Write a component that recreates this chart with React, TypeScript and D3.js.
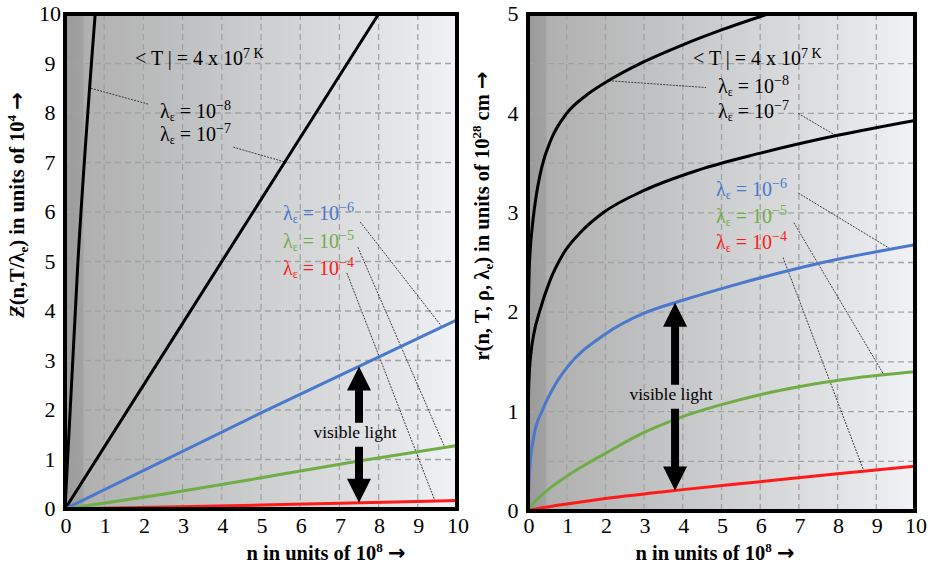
import React from 'react';
import * as d3 from 'd3';

type Pt = [number, number];

// ---- tick values ----
const nTicks = [0, 1, 2, 3, 4, 5, 6, 7, 8, 9, 10];
const zTicks = [0, 1, 2, 3, 4, 5, 6, 7, 8, 9, 10];
const zGrid = [1, 2, 3, 4, 5, 6, 7, 8, 9];
const nGrid = [1, 2, 3, 4, 5, 6, 7, 8, 9];
const rTicks = [0, 1, 2, 3, 4, 5];
const rGrid = [0.5, 1, 1.5, 2, 2.5, 3, 3.5, 4, 4.5];

// ---- Z(n, T/λe), units of 1e4, n in units of 1e8 ----
const zLam8: Pt[] = [[0, 0], [0.33, 5], [0.77, 10]];
const zLam7: Pt[] = [[0, 0], [5.6, 7], [8.0, 10]];
const zLam6: Pt[] = [[0, 0], [5, 1.94], [10, 3.82]];
const zLam5: Pt[] = [[0, 0], [2.5, 0.3], [5, 0.63], [7.5, 0.97], [10, 1.28]];
const zLam4: Pt[] = [[0, 0], [5, 0.08], [10, 0.17]];

// ---- r(n, T, ρ, λe), units of 1e28 cm ----
const rLam8: Pt[] = [[0, 0], [0.002, 1.4], [0.01, 2.0], [0.03, 2.4], [0.06, 2.64], [0.1, 2.82], [0.2, 3.14], [0.35, 3.45], [0.6, 3.74], [1, 4.0], [1.5, 4.18], [2, 4.31], [3, 4.52], [4, 4.69], [5, 4.84], [6.2, 5.0], [7, 5.1]];
const rLam7: Pt[] = [[0, 0], [0.003, 0.8], [0.01, 1.1], [0.03, 1.35], [0.08, 1.6], [0.15, 1.78], [0.31, 2.02], [0.57, 2.32], [0.9, 2.58], [1.4, 2.82], [1.94, 3.0], [2.97, 3.22], [4.4, 3.43], [6, 3.6], [8, 3.78], [10, 3.93]];
const rLam6: Pt[] = [[0, 0], [0.02, 0.25], [0.06, 0.5], [0.15, 0.75], [0.38, 1.02], [0.7, 1.27], [1, 1.44], [2, 1.78], [3, 1.99], [4, 2.12], [5.3, 2.27], [7.5, 2.49], [10, 2.68]];
const rLam5: Pt[] = [[0, 0], [0.1, 0.06], [0.3, 0.14], [0.6, 0.24], [1, 0.35], [1.5, 0.47], [2, 0.58], [3, 0.79], [4, 0.95], [5, 1.07], [6, 1.17], [7, 1.25], [8.5, 1.34], [10, 1.4]];
const rLam4: Pt[] = [[0, 0], [0.2, 0.02], [0.5, 0.04], [1, 0.07], [2, 0.125], [4, 0.215], [6, 0.295], [8, 0.375], [10, 0.45]];

const BLUE = '#4a78cc';
const GREEN = '#70ad47';
const RED = '#ff1a1a';
const SERIF = '"Liberation Serif", "Times New Roman", serif';
const ARROW_FONT = '"DejaVu Sans", sans-serif';

const zSeries = [
  { pts: zLam8, color: '#000' },
  { pts: zLam7, color: '#000' },
  { pts: zLam6, color: BLUE },
  { pts: zLam5, color: GREEN },
  { pts: zLam4, color: RED },
];
const rSeries = [
  { pts: rLam8, color: '#000' },
  { pts: rLam7, color: '#000' },
  { pts: rLam6, color: BLUE },
  { pts: rLam5, color: GREEN },
  { pts: rLam4, color: RED },
];

// linear interpolation of a series at n
function valueAt(pts: Pt[], n: number): number {
  for (let i = 1; i < pts.length; i++) {
    if (n <= pts[i][0]) {
      const [x0, y0] = pts[i - 1];
      const [x1, y1] = pts[i];
      return y0 + ((n - x0) / (x1 - x0)) * (y1 - y0);
    }
  }
  return pts[pts.length - 1][1];
}

const xL = d3.scaleLinear().domain([0, 10]).range([65, 457]);
const yL = d3.scaleLinear().domain([0, 10]).range([509, 14]);
const xR = d3.scaleLinear().domain([0, 10]).range([528, 915]);
const yR = d3.scaleLinear().domain([0, 5]).range([511, 14]);

function LamLabel({ x, y, exp, color }: { x: number; y: number; exp: number; color: string }) {
  return (
    <text x={x} y={y} fontFamily={SERIF} fontSize={20} fill={color}>
      <tspan>λ</tspan>
      <tspan fontSize={12} dy={3}>ε</tspan>
      <tspan dy={-3}> = 10</tspan>
      <tspan fontSize={14} dy={-8}>{'−' + exp}</tspan>
    </text>
  );
}

function TempLabel({ x, y }: { x: number; y: number }) {
  return (
    <text x={x} y={y} fontFamily={SERIF} fontSize={20} fill="#000">
      <tspan>{'< T | = 4 x 10'}</tspan>
      <tspan fontSize={14} dy={-7}>{'7 K'}</tspan>
    </text>
  );
}

function DoubleArrow({ x, yTop, yBot, label }: { x: number; yTop: number; yBot: number; label: string }) {
  const head = 24, hw = 12, sw = 4;
  const mid = (yTop + yBot) / 2;
  const base = mid + 3;
  const gapTop = base - 15;
  const gapBot = base + 9;
  const up = `M${x},${yTop} L${x + hw},${yTop + head} L${x + sw},${yTop + head} L${x + sw},${gapTop} L${x - sw},${gapTop} L${x - sw},${yTop + head} L${x - hw},${yTop + head} Z`;
  const dn = `M${x},${yBot} L${x + hw},${yBot - head} L${x + sw},${yBot - head} L${x + sw},${gapBot} L${x - sw},${gapBot} L${x - sw},${yBot - head} L${x - hw},${yBot - head} Z`;
  return (
    <g>
      <path d={up} fill="#000" />
      <path d={dn} fill="#000" />
      <text x={x - 4} y={base} textAnchor="middle" fontFamily={SERIF} fontSize={17.5} fill="#000">{label}</text>
    </g>
  );
}

type Leader = [Pt, Pt];

function Panel({
  id, x, y, series, xTicks, yTicks, hGrid, vGrid, yTickX, leaders, curve,
}: {
  id: string;
  x: d3.ScaleLinear<number, number>;
  y: d3.ScaleLinear<number, number>;
  series: { pts: Pt[]; color: string }[];
  xTicks: number[];
  yTicks: number[];
  hGrid: number[];
  vGrid: number[];
  yTickX: number;
  leaders: Leader[];
  curve: d3.CurveFactory;
}) {
  const [x0, x1] = x.range();
  const [y0, y1] = y.range();
  const line = d3.line<Pt>().x((d) => x(d[0])).y((d) => y(d[1])).curve(curve);
  return (
    <g>
      <defs>
        <linearGradient id={`bg-${id}`} x1="0" y1="0" x2="1" y2="0">
          <stop offset="0" stopColor="#9a9a9a" />
          <stop offset="0.045" stopColor="#a2a2a2" />
          <stop offset="0.05" stopColor="#b0b0b0" />
          <stop offset="0.3" stopColor="#bfc0c1" />
          <stop offset="0.6" stopColor="#d4d5d7" />
          <stop offset="0.85" stopColor="#e4e6e9" />
          <stop offset="1" stopColor="#f0f2f6" />
        </linearGradient>
        <clipPath id={`clip-${id}`}>
          <rect x={x0} y={y1} width={x1 - x0} height={y0 - y1} />
        </clipPath>
      </defs>
      <rect x={x0} y={y1} width={x1 - x0} height={y0 - y1} fill={`url(#bg-${id})`} />
      <g stroke="#a2a2a2" strokeWidth={1.3} strokeDasharray="6,4">
        {vGrid.map((v) => <line key={'v' + v} x1={x(v)} x2={x(v)} y1={y1} y2={y0} />)}
        {hGrid.map((v) => <line key={'h' + v} x1={x0} x2={x1} y1={y(v)} y2={y(v)} />)}
      </g>
      <g stroke="#2a2a2a" strokeWidth={0.9} strokeDasharray="2,1.2">
        {leaders.map((l, i) => (
          <line key={i} x1={x(l[0][0])} y1={y(l[0][1])} x2={x(l[1][0])} y2={y(l[1][1])} />
        ))}
      </g>
      <g clipPath={`url(#clip-${id})`} fill="none">
        {series.map((s, i) => (
          <path key={i} d={line(s.pts) || ''} stroke={s.color} strokeWidth={3} strokeLinejoin="round" />
        ))}
      </g>
      <rect x={x0} y={y1} width={x1 - x0} height={y0 - y1} fill="none" stroke="#000" strokeWidth={4} />
      <g fontFamily={SERIF} fontSize={22} fill="#000" textAnchor="middle">
        {xTicks.map((t) => <text key={'x' + t} x={x(t) + 1} y={533}>{t}</text>)}
        {yTicks.map((t) => <text key={'y' + t} x={yTickX} y={y(t)} dy="0.33em">{t}</text>)}
      </g>
    </g>
  );
}

export default function App() {
  const nArrowL = 7.5;
  const nArrowR = 3.8;

  const leadersL: Leader[] = [
    [[0.66, 8.5], [2.12, 8.18]],
    [[4.29, 7.31], [5.61, 7.01]],
    [[7.53, 5.8], [9.62, valueAt(zLam6, 9.62)]],
    [[7.47, 5.29], [9.69, valueAt(zLam5, 9.69)]],
    [[7.19, 4.77], [9.44, valueAt(zLam4, 9.44)]],
  ];
  const leadersR: Leader[] = [
    [[2.09, valueAt(rLam8, 2.09)], [4.6, 4.26]],
    [[6.98, 4.0], [7.96, valueAt(rLam7, 7.96)]],
    [[6.98, 3.2], [9.38, valueAt(rLam6, 9.38)]],
    [[6.87, 2.9], [9.2, valueAt(rLam5, 9.2)]],
    [[6.59, 2.55], [8.68, valueAt(rLam4, 8.68)]],
  ];

  return (
    <svg width={936} height={568} style={{ position: 'absolute', left: 0, top: 0, background: '#fff' }}>
      <rect width={936} height={568} fill="#fff" />

      <Panel id="z" x={xL} y={yL} series={zSeries} xTicks={nTicks} yTicks={zTicks}
        hGrid={zGrid} vGrid={nGrid} yTickX={50} leaders={leadersL} curve={d3.curveMonotoneX} />
      <Panel id="r" x={xR} y={yR} series={rSeries} xTicks={nTicks} yTicks={rTicks}
        hGrid={rGrid} vGrid={nGrid} yTickX={513} leaders={leadersR} curve={d3.curveMonotoneX} />

      {/* left panel annotations */}
      <TempLabel x={135} y={65} />
      <LamLabel x={160} y={118} exp={8} color="#000" />
      <LamLabel x={160} y={141} exp={7} color="#000" />
      <LamLabel x={283} y={220} exp={6} color={BLUE} />
      <LamLabel x={283} y={248} exp={5} color={GREEN} />
      <LamLabel x={283} y={275} exp={4} color={RED} />
      <DoubleArrow x={xL(nArrowL)} yTop={yL(valueAt(zLam6, nArrowL))} yBot={yL(valueAt(zLam4, nArrowL))} label="visible light" />

      {/* right panel annotations */}
      <TempLabel x={693} y={65} />
      <LamLabel x={718} y={93} exp={8} color="#000" />
      <LamLabel x={718} y={118} exp={7} color="#000" />
      <LamLabel x={716} y={196} exp={6} color={BLUE} />
      <LamLabel x={716} y={223} exp={5} color={GREEN} />
      <LamLabel x={716} y={249} exp={4} color={RED} />
      <DoubleArrow x={xR(nArrowR)} yTop={yR(valueAt(rLam6, nArrowR))} yBot={yR(valueAt(rLam4, nArrowR))} label="visible light" />

      {/* axis titles */}
      <g fontFamily={SERIF} fontWeight="bold" fontSize={20.5} fill="#000" textAnchor="middle">
        <text x={326} y={560}>
          n in units of 10<tspan fontSize={13} dy={-8}>8</tspan><tspan dy={8}> </tspan><tspan fontFamily={ARROW_FONT} fontSize={21}>→</tspan>
        </text>
        <text x={715} y={560}>
          n in units of 10<tspan fontSize={13} dy={-8}>8</tspan><tspan dy={8}> </tspan><tspan fontFamily={ARROW_FONT} fontSize={21}>→</tspan>
        </text>
        <text transform="translate(24,205) rotate(-90)">
          <tspan fontStyle="italic">Ƶ</tspan>(n,T/λ<tspan fontSize={13} dy={4}>e</tspan><tspan dy={-4}>) in units of 10</tspan><tspan fontSize={13} dy={-8}>4</tspan><tspan dy={8}> </tspan><tspan fontFamily={ARROW_FONT} fontSize={21}>→</tspan>
        </text>
        <text transform="translate(489,216) rotate(-90)">
          r(n, T, ρ, λ<tspan fontSize={13} dy={4}>e</tspan><tspan dy={-4}>) in units of 10</tspan><tspan fontSize={13} dy={-8}>28</tspan><tspan dy={8}> cm </tspan><tspan fontFamily={ARROW_FONT} fontSize={21}>→</tspan>
        </text>
      </g>
    </svg>
  );
}
